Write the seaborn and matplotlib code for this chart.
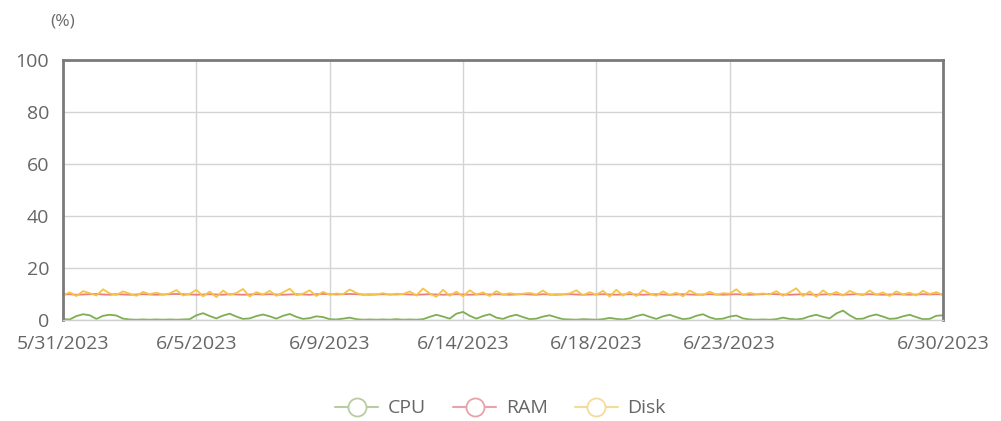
import numpy as np
import pandas as pd
import seaborn as sns
import matplotlib
matplotlib.use("Agg")
import matplotlib.pyplot as plt
from matplotlib.lines import Line2D

# Usage samples (%), one per reporting interval
cpu = [
    0.3, 0.2, 1.5, 2.2, 1.8, 0.4, 1.6, 2.0, 1.7, 0.5,
    0.2, 0.1, 0.2, 0.1, 0.2, 0.1, 0.2, 0.1, 0.2, 0.3,
    1.8, 2.6, 1.5, 0.6, 1.7, 2.4, 1.3, 0.4, 0.6, 1.5,
    2.1, 1.4, 0.5, 1.6, 2.3, 1.2, 0.4, 0.7, 1.4, 1.1,
    0.3, 0.2, 0.5, 0.9, 0.3, 0.1, 0.2, 0.1, 0.2, 0.1,
    0.3, 0.1, 0.2, 0.1, 0.3, 1.2, 2.0, 1.3, 0.5, 2.4,
    3.1, 1.6, 0.5, 1.5, 2.2, 0.9, 0.4, 1.4, 2.0, 1.1,
    0.3, 0.5, 1.3, 1.8, 1.0, 0.3, 0.2, 0.1, 0.3, 0.2,
    0.1, 0.3, 0.8, 0.4, 0.2, 0.6, 1.5, 2.1, 1.2, 0.4,
    1.4, 2.0, 1.1, 0.3, 0.6, 1.6, 2.2, 1.0, 0.3, 0.5,
    1.3, 1.7, 0.6, 0.2, 0.1, 0.2, 0.1, 0.3, 0.9, 0.4,
    0.2, 0.5, 1.4, 2.0, 1.2, 0.6, 2.5, 3.6, 1.8, 0.4,
    0.5, 1.5, 2.1, 1.3, 0.4, 0.6, 1.4, 2.0, 1.1, 0.3,
    0.4, 1.6, 1.8,
]
ram = [
    9.8, 9.9, 9.7, 9.8, 9.9, 10.0, 9.8, 9.7, 9.9, 9.8,
    9.7, 9.8, 9.9, 9.8, 9.7, 9.8, 9.9, 10.0, 9.9, 9.8,
    9.7, 9.8, 9.9, 9.8, 9.7, 9.9, 9.8, 9.7, 9.8, 9.9,
    9.8, 9.9, 9.8, 9.7, 9.8, 9.9, 9.8, 9.7, 9.9, 10.0,
    9.9, 9.8, 9.9, 10.0, 9.9, 9.8, 9.7, 9.8, 9.9, 9.8,
    9.8, 9.9, 9.8, 9.7, 9.8, 9.9, 9.8, 9.7, 9.8, 9.9,
    9.8, 9.7, 9.8, 9.9, 9.8, 9.9, 9.8, 9.7, 9.8, 9.9,
    9.8, 9.7, 9.9, 9.8, 9.7, 9.8, 9.9, 9.8, 9.7, 9.8,
    9.8, 9.9, 9.8, 9.7, 9.8, 9.9, 9.8, 9.7, 9.8, 9.9,
    9.8, 9.7, 9.8, 9.9, 9.8, 9.7, 9.8, 9.9, 9.8, 9.7,
    9.8, 9.9, 9.8, 9.7, 9.8, 9.9, 10.0, 9.9, 9.8, 9.7,
    9.8, 9.9, 9.8, 9.7, 9.8, 9.9, 9.8, 9.7, 9.8, 9.9,
    9.8, 9.9, 9.8, 9.7, 9.8, 9.9, 9.8, 9.7, 9.8, 9.9,
    9.8, 9.9, 9.8,
]
disk = [
    9.5, 10.6, 9.2, 11.1, 10.3, 9.4, 11.8, 10.2, 9.6, 11.0,
    10.1, 9.3, 10.8, 9.9, 10.5, 9.7, 10.2, 11.5, 9.4, 10.0,
    11.6, 9.1, 10.9, 8.8, 11.3, 9.6, 10.4, 11.9, 9.0, 10.7,
    9.8, 11.2, 9.3, 10.6, 12.0, 9.5, 10.1, 11.4, 9.2, 10.8,
    9.7, 10.2, 9.9, 11.7, 10.4, 9.6, 10.0, 9.8, 10.3, 9.7,
    10.1, 9.9, 11.0, 9.4, 12.1, 10.2, 8.9, 11.6, 9.3, 10.9,
    9.1, 11.4, 9.8, 10.6, 9.2, 11.1, 9.7, 10.3, 9.9, 10.1,
    10.4, 9.8, 11.3, 9.6, 10.0, 9.9, 10.2, 11.4, 9.5, 10.7,
    9.7, 11.2, 9.0, 11.6, 9.4, 10.8, 9.2, 11.5, 10.1, 9.3,
    11.0, 9.6, 10.5, 9.1, 11.3, 10.0, 9.5, 10.9, 9.7, 10.3,
    10.1, 11.8, 9.6, 10.4, 9.9, 10.2, 9.8, 11.1, 9.3, 10.6,
    12.2, 9.2, 11.0, 8.9, 11.4, 9.6, 10.8, 9.4, 11.2, 10.1,
    9.5, 11.3, 9.7, 10.6, 9.2, 11.0, 9.8, 10.5, 9.4, 11.2,
    10.0, 10.7, 9.6,
]

series_names = ["CPU", "RAM", "Disk"]
tick_index = [0, 20, 40, 60, 80, 100, 132]
tick_labels = ["5/31/2023", "6/5/2023", "6/9/2023", "6/14/2023",
               "6/18/2023", "6/23/2023", "6/30/2023"]
y_ticks = [0, 20, 40, 60, 80, 100]

colors = {"CPU": "#7fae52", "RAM": "#ea7f7f", "Disk": "#f6c445"}
legend_colors = {"CPU": "#b9cba3", "RAM": "#e6a3ab", "Disk": "#f3dc9a"}

n = len(cpu)
df = pd.DataFrame({"idx": np.arange(n), "CPU": cpu, "RAM": ram, "Disk": disk})
long = df.melt(id_vars="idx", var_name="series", value_name="usage")

sns.set_theme(style="white")
plt.rcParams["font.family"] = ["Open Sans", "DejaVu Sans"]

fig = plt.figure(figsize=(10.01, 4.21), dpi=100)
ax = fig.add_axes([0.063, 0.24, 0.879, 0.6175])

ax.set_xlim(0, n - 1)
ax.set_ylim(0, 100)
ax.set_xticks(tick_index)
ax.set_xticklabels(tick_labels)
ax.set_yticks(y_ticks)
ax.grid(True, color="#d4d4d4", linewidth=1)
ax.set_axisbelow(True)

sns.lineplot(data=long, x="idx", y="usage", hue="series",
             hue_order=["RAM", "Disk", "CPU"], palette=colors,
             linewidth=1.3, legend=False, ax=ax, clip_on=False)

for side in ["left", "top", "right"]:
    ax.spines[side].set_color("#7a7a7a")
    ax.spines[side].set_linewidth(2)
    ax.spines[side].set_visible(True)
ax.spines["bottom"].set_color("#cfcfcf")
ax.spines["bottom"].set_linewidth(1)
ax.spines["bottom"].set_visible(True)

ax.tick_params(axis="both", length=0, labelsize=14, labelcolor="#666666")
ax.tick_params(axis="y", pad=10)
ax.tick_params(axis="x", pad=11)
ax.set_xlabel("")
ax.set_ylabel("")

fig.text(0.063, 0.950, "(%)", ha="center", va="center",
         fontsize=12.5, color="#6a6a6a")

handles = [
    Line2D([0], [0], color=legend_colors[s], linewidth=1.5, marker="o",
           markersize=13, markerfacecolor="white",
           markeredgecolor=legend_colors[s], markeredgewidth=1.3)
    for s in series_names
]
fig.legend(handles, series_names, loc="center", bbox_to_anchor=(0.5, 0.03),
           ncol=3, frameon=False, fontsize=14, handlelength=2.2,
           handletextpad=0.5, columnspacing=1.4, labelcolor="#666666")

fig.savefig("out.png", dpi=100, facecolor="white")
